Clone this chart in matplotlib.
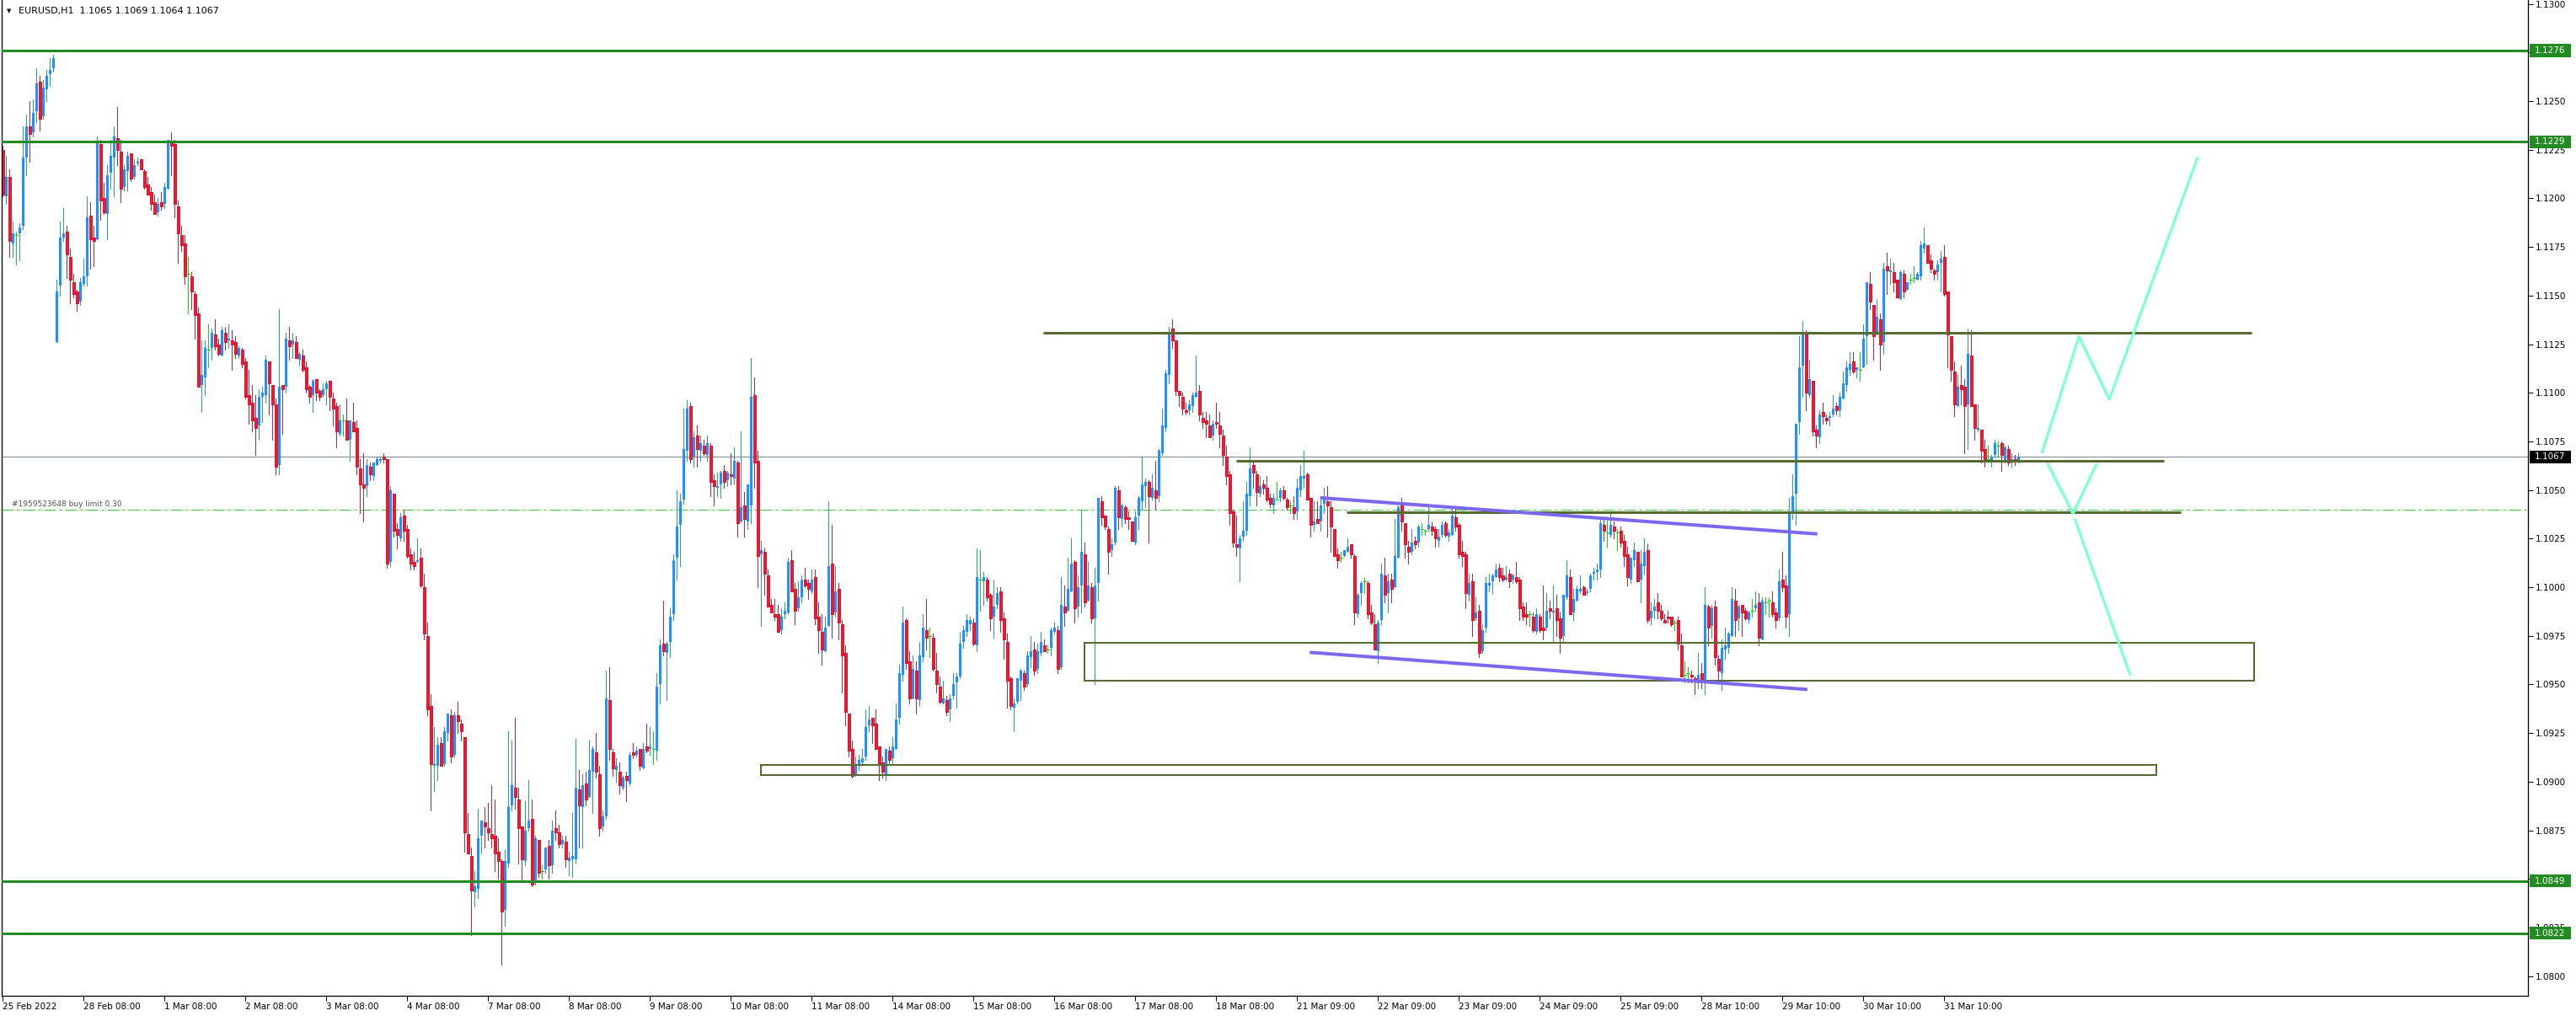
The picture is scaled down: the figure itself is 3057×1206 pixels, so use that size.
import numpy as np
import matplotlib
matplotlib.use("Agg")
import matplotlib.pyplot as plt
from matplotlib.patches import Rectangle
from matplotlib.transforms import blended_transform_factory

plt.rcParams['font.family'] = ['DejaVu Sans']
plt.rcParams['lines.scale_dashes'] = False

# prices are stored in pips above 1.0800
BASE = 1.0800

# EURUSD H1, 25 Feb 2022 08:00 .. 1 Apr 2022, one row per bar: open, high, low, close
OHLC = """
425 427 401 402|401 422 397 411|411 415 370 378|377 388 370 382|381 383 366 381|382 387 368 385|386 437 384 421|421 443 412 437
437 450 419 433|434 451 432 444|445 467 439 459|460 463 435 441|442 461 441 457|456 466 450 463|464 472 458 466|467 474 465 472
326 358 326 352|355 388 350 380|380 395 378 382|383 386 359 371|370 374 346 358|357 361 349 351|352 353 342 346|347 359 345 357
356 369 355 360|360 401 355 390|391 398 364 379|380 386 365 378|379 432 379 429|428 430 389 399|400 408 392 393|392 417 379 412
413 430 405 422|421 437 401 432|431 447 417 425|424 430 398 405|406 417 404 415|414 424 404 422|423 423 409 410|411 420 410 417
418 421 417 419|420 420 415 415|414 415 405 406|407 411 402 402|403 406 394 397|398 402 392 392|393 400 391 397|398 403 394 396
397 408 395 406|405 430 405 430|429 434 412 427|428 430 390 397|396 399 367 382|381 386 373 376|377 381 356 360|361 370 341 361
360 362 343 352|351 352 328 340|341 344 303 303|304 327 290 309|308 327 299 323|322 335 313 322|323 333 317 331|330 338 322 324
325 328 319 320|319 334 319 332|331 334 322 326|327 335 323 328|327 332 312 325|326 329 318 320|319 324 318 323|322 323 313 315
316 318 297 298|299 312 284 294|295 304 280 286|287 299 268 282|283 302 276 298|298 303 285 300|299 319 295 317|316 316 289 305
304 304 276 294|294 297 258 262|263 343 258 303|304 304 279 302|303 331 300 328|327 334 317 324|325 331 318 327|326 329 318 318
317 321 314 320|319 322 311 312|313 316 300 302|303 304 295 298|299 307 290 306|307 307 296 300|301 302 296 298|299 305 298 302
302 306 294 305|306 306 291 298|297 300 283 292|293 295 272 280|279 294 278 286|286 289 278 286|286 297 276 276|276 286 265 286
285 295 280 280|282 286 258 262|261 266 238 253|253 269 234 251|252 266 247 263|262 264 255 258|257 264 255 264|263 267 263 266
265 267 264 266|267 269 264 266|266 266 210 212|213 252 211 250|248 248 226 229|230 233 220 227|225 238 224 236|237 240 224 229
230 232 215 216|217 220 209 212|213 218 209 211|213 225 213 214|215 220 200 201|200 207 173 176|175 182 134 137|139 145 85 109
108 128 95 109|108 123 101 119|120 123 108 108|109 128 108 126|125 135 121 135|134 137 110 113|114 136 113 134|134 141 125 131
130 132 121 126|123 123 64 74|73 84 63 63|62 66 21 44|43 54 36 46|45 86 40 71|72 80 63 80|79 87 66 77
76 89 70 74|73 98 66 71|72 91 54 63|64 71 50 59|59 60 6 33|34 65 26 59|58 126 56 87|88 121 85 98
97 133 86 92|91 97 58 76|77 77 49 60|59 90 57 75|76 101 75 80|81 91 46 47|49 72 47 71|70 70 51 53
54 57 50 54|55 66 53 66|67 70 50 57|57 80 53 75|76 85 70 74|74 78 66 68|68 72 66 70|69 72 56 60
59 64 52 61|60 84 51 62|60 122 58 97|96 106 66 88|87 104 66 98|99 105 88 91|92 121 92 106|105 118 84 117
115 125 102 105|104 108 72 76|77 85 75 82|82 157 81 143|142 159 111 117|115 117 103 107|106 112 100 108|105 110 94 98
97 103 96 102|103 105 90 101|99 115 98 114|115 120 112 114|114 118 113 116|117 117 106 108|107 120 107 117|118 130 115 116
117 128 114 118|117 126 109 117|116 156 111 149|150 173 140 170|171 193 165 167|166 172 142 171|172 189 164 185|186 217 183 214
215 250 204 231|232 248 211 244|245 292 243 271|270 296 265 292|293 295 264 266|267 280 262 277|278 283 262 271|270 278 265 274
273 276 268 269|268 278 265 274|273 274 247 254|255 258 242 252|251 259 247 252|253 260 246 259|260 263 251 254|255 260 252 259
258 269 253 257|256 272 253 265|264 265 226 233|234 280 234 241|242 249 226 235|234 253 230 253|242 318 233 298|299 308 251 264
265 270 200 216|217 224 180 219|218 220 196 207|206 209 190 190|191 194 187 187|186 194 183 185|186 191 177 177|178 189 176 185
186 192 184 188|187 215 186 213|214 219 198 198|199 202 181 188|189 203 188 195|195 206 192 204|204 210 200 201|202 204 194 199
198 209 197 204|205 209 181 184|185 192 166 178|177 186 160 168|167 185 167 179|180 244 180 211|212 232 174 186|187 211 185 198
199 202 173 182|181 183 146 165|166 170 129 136|135 135 113 116|117 121 102 103|104 113 103 109|108 114 106 111|110 117 109 112
113 137 111 128|129 139 126 132|133 133 120 129|130 137 117 117|118 118 101 109|110 113 102 105|104 117 101 117|116 118 109 111
112 123 109 118|117 140 117 132|133 160 130 156|155 190 152 182|183 184 158 161|162 167 140 143|143 165 143 158|157 162 135 143
142 172 139 165|164 186 162 179|178 194 168 174|175 179 164 175|174 176 157 158|157 166 146 150|149 154 140 141|140 152 140 143
142 144 134 136|137 145 131 143|144 156 143 150|151 156 138 154|154 177 153 171|172 180 169 178|177 186 175 183|181 185 178 183
182 184 170 171|170 220 167 205|204 219 188 204|203 208 191 205|204 205 193 195|196 197 178 184|185 204 174 190|191 200 189 197
198 200 177 183|184 187 163 173|172 176 138 152|153 154 137 139|138 143 126 140|141 153 140 153|152 158 142 157|156 157 147 149
150 167 149 165|164 175 159 167|168 172 155 157|158 171 156 167|166 177 165 172|170 173 167 167|168 170 166 168|169 179 165 178
177 182 176 179|178 180 156 158|159 205 158 191|190 201 180 187|188 215 188 199|198 225 198 212|213 214 182 189|190 206 185 200
201 240 187 218|217 223 190 192|193 213 193 201|200 202 182 184|184 210 150 201|202 246 193 246|244 247 232 236|237 237 230 231
230 231 207 218|219 225 216 222|223 252 222 251|250 252 230 236|235 243 231 242|241 242 233 235|236 239 230 235|234 234 224 224
223 239 222 236|237 247 230 246|244 267 240 253|252 256 241 254|254 255 223 247|246 258 245 251|250 265 240 246|247 271 244 270
269 292 268 283|282 312 280 310|309 334 305 331|333 338 323 327|327 327 299 301|301 301 293 299|298 300 289 292|291 295 289 290
291 296 289 294|293 300 290 299|298 319 298 300|301 304 286 289|287 290 282 285|286 290 277 284|283 289 277 277|278 286 276 284
285 295 282 284|283 290 272 279|278 281 263 268|267 273 253 257|258 260 232 238|239 240 221 223|222 237 216 221|220 227 203 225
226 244 224 229|229 254 227 248|247 272 242 261|263 265 251 259|258 260 242 249|248 257 247 252|253 255 248 251|251 257 244 245
246 248 241 243|242 248 238 246|245 254 245 245|246 251 244 250|250 252 245 246|245 246 240 241|242 244 238 242|241 247 235 238
239 256 235 251|250 263 247 257|256 270 251 257|258 259 245 245|246 246 226 232|232 244 229 234|235 244 233 233|234 245 229 242
243 251 238 245|244 252 226 242|241 244 218 231|230 230 216 216|217 220 210 214|215 218 213 215|216 219 216 219|218 225 218 221
222 222 215 217|216 217 181 187|186 197 185 196|197 203 191 202|203 205 197 203|202 203 184 186|187 191 181 182|181 186 168 168
167 183 161 182|183 212 181 207|206 215 192 196|197 207 187 203|204 207 192 199|200 235 200 216|215 242 215 241|242 246 229 234
233 233 215 222|221 224 212 218|218 230 217 223|224 226 220 222|223 232 221 231|230 233 227 230|229 230 227 229|230 242 229 232
231 234 227 229|230 231 221 225|224 230 221 226|227 234 226 232|233 234 226 227|226 230 224 228|227 241 227 237|236 241 229 231
232 233 215 217|218 224 211 216|217 218 189 197|196 207 193 202|203 207 175 183|184 195 183 187|188 191 164 166|167 181 166 178
179 205 177 202|201 207 198 202|203 207 197 206|205 212 205 209|210 212 203 205|206 210 203 204|204 211 204 205|207 209 200 203
204 207 202 206|205 213 202 203|204 205 183 189|190 192 183 185|186 192 181 185|186 188 180 186|185 187 177 178|177 189 176 186
185 186 177 178|179 201 173 178|179 197 178 188|189 193 184 188|187 201 172 188|189 196 175 183|184 187 166 174|175 196 172 196
195 214 194 206|205 209 186 186|187 199 183 194|193 201 193 199|198 206 197 199|200 201 196 196|197 199 196 198|199 207 198 206
207 210 204 208|208 212 204 209|209 236 205 233|232 236 224 229|228 235 221 228|227 238 226 232|231 234 225 229|228 230 219 228
229 231 221 223|224 227 211 216|217 221 201 205|204 215 202 215|214 223 211 219|218 218 203 203|204 219 192 212|211 225 207 218
219 222 182 183|184 192 181 188|188 194 184 190|192 197 184 188|188 191 183 184|183 186 182 182|185 188 182 184|185 185 180 181
182 183 178 182|183 185 168 171|170 176 154 154|155 162 151 155|156 159 151 156|155 157 151 154|153 154 145 152|151 166 148 155
156 161 148 151|151 200 145 191|190 191 170 179|180 191 174 189|190 193 160 164|163 165 151 157|156 173 147 169|168 179 163 170
169 177 166 176|175 200 175 194|193 199 175 183|184 191 178 190|191 191 175 187|188 189 183 184|183 188 182 187|188 194 185 188
189 198 188 191|192 197 170 174|173 195 173 193|192 195 186 192|193 195 185 193|192 198 185 186|187 189 179 183|184 209 183 203
204 218 198 200|201 206 179 185|186 246 175 238|239 258 235 247|248 284 232 284|285 329 279 313|314 337 298 330|331 332 291 300
299 317 298 307|306 306 278 280|281 283 272 278|277 291 274 289|290 295 284 288|287 289 284 286|287 290 283 288|289 299 288 292
293 295 289 291|291 300 288 298|297 311 297 305|304 316 301 313|312 321 309 315|316 321 310 311|312 313 308 313|312 321 306 312
313 335 313 328|329 357 315 357|356 362 343 347|345 345 317 329|330 348 330 339|338 341 312 325|326 367 320 364|365 372 351 363
362 369 356 363|362 367 352 357|358 358 349 349|348 363 348 362|361 363 349 352|353 357 353 357|358 361 356 358|359 365 357 359
358 362 358 361|360 378 358 376|374 385 372 377|376 376 367 367|368 371 362 364|363 364 358 361|362 368 358 366|367 373 352 369
370 376 350 351|352 352 313 330|329 329 306 312|311 316 288 294|293 309 293 303|304 314 294 302|303 307 269 293|294 333 271 320
319 332 293 293|294 294 276 282|281 294 280 282|281 281 264 270|271 276 262 265|266 273 265 266|265 268 262 267|268 276 267 274
273 275 267 273|274 275 260 268|265 273 264 272|271 273 263 264|265 269 262 266|266 268 263 265|265 269 264 267
"""

TIME_LABELS = ["25 Feb 2022", "28 Feb 08:00", "1 Mar 08:00", "2 Mar 08:00", "3 Mar 08:00",
               "4 Mar 08:00", "7 Mar 08:00", "8 Mar 08:00", "9 Mar 08:00", "10 Mar 08:00",
               "11 Mar 08:00", "14 Mar 08:00", "15 Mar 08:00", "16 Mar 08:00", "17 Mar 08:00",
               "18 Mar 08:00", "21 Mar 09:00", "22 Mar 09:00", "23 Mar 09:00", "24 Mar 09:00",
               "25 Mar 09:00", "28 Mar 10:00", "29 Mar 10:00", "30 Mar 10:00", "31 Mar 10:00"]
LABEL_STEP = 24  # bars between date labels

PRICE_TICKS = [1.0800, 1.0825, 1.0850, 1.0875, 1.0900, 1.0925, 1.0950, 1.0975, 1.1000,
               1.1025, 1.1050, 1.1075, 1.1100, 1.1125, 1.1150, 1.1175, 1.1200, 1.1225,
               1.1250, 1.1275, 1.1300]

LEVELS = [1.1276, 1.1229, 1.0849, 1.0822]   # green horizontal levels
BID = 1.1067
ORDER_PRICE = 1.1040
ORDER_TEXT = "#1959523648 buy limit 0.30"

# drawn objects, (bar, pips)
OLIVE_LINES = [((308.75, 331.0), (667.2, 331.0)),
               ((365.85, 265.0), (641.1, 265.0)),
               ((398.8, 238.5), (646.1, 238.5))]
OLIVE_BOXES = [((320.85, 151.7), (667.9, 171.6)),
               ((224.85, 103.5), (638.9, 108.7))]
CHANNEL = [((390.85, 246.0), (538.35, 227.4)),
           ((387.75, 166.5), (535.4, 147.4))]
PATHS = [[(605.1, 269.6), (616.0, 329.0), (625.0, 296.6), (651.1, 420.6)],
         [(606.85, 263.2), (614.2, 237.8), (621.1, 263.0)],
         [(614.85, 234.6), (631.1, 155.2)]]

W, H = 3057, 1206
PX = 0.72  # one pixel in points at dpi 100
BULL = '#1E90FF'
BEAR = '#EE1B2E'
BEAR_WICK = '#D41A35'
DOJI = '#00E000'
GREEN = '#228B22'
OLIVE = '#556B2F'
PURPLE = '#7B68EE'
AQUA = '#7FFFD4'


def px(v):
    return BASE + np.asarray(v, dtype=float) / 10000.0


def price_box(ax, price, text, color):
    tr = blended_transform_factory(ax.transAxes, ax.transData)
    ax.add_patch(Rectangle((1 + 2 / 2998, price - 0.00033), 49 / 2998, 0.00066,
                           transform=tr, facecolor=color, edgecolor='none',
                           clip_on=False, zorder=6))
    ax.text(1 + 8 / 2998, price, text, transform=tr, ha='left', va='center',
            color='white', fontsize=7.5, clip_on=False, zorder=7)


def main():
    rows = [r.split() for r in OHLC.replace("\n", "|").split("|") if r.strip()]
    data = np.array(rows, dtype=float)
    o, h, l, c = (px(data[:, k]) for k in range(4))
    n = len(o)
    x = np.arange(n)

    fig = plt.figure(figsize=(W / 100, H / 100), dpi=100)
    ax = fig.add_axes([2 / W, 24 / H, 2998 / W, 1182 / H])
    ax.set_xlim(-0.325, 749.2)
    ax.set_ylim(1.078987, 1.13020)

    up = c > o
    dn = c < o
    dj = c == o

    wick_col = np.where(up, BULL, np.where(dn, BEAR_WICK, DOJI))
    ax.vlines(x, l, h, colors=list(wick_col), lw=PX, zorder=2,
              antialiased=False)
    ax.bar(x[up], (c - o)[up], bottom=o[up], width=0.75, color=BULL, lw=0,
           zorder=2, antialiased=False)
    ax.bar(x[dn], (o - c)[dn], bottom=c[dn], width=0.75, color=BEAR,
           edgecolor=BEAR_WICK, lw=0.5, zorder=2, antialiased=False)
    ax.hlines(c[dj], x[dj] - 0.4, x[dj] + 0.4, colors=DOJI, lw=PX,
              zorder=2, antialiased=False)

    # bid line and pending order line
    ax.axhline(BID, color='#778899', lw=PX, zorder=1)
    ax.axhline(ORDER_PRICE, color='#32CD32', lw=PX, zorder=1,
               linestyle=(0, (10, 3, 2, 3)))
    ax.text(12 / 2998, ORDER_PRICE + 0.00006, ORDER_TEXT,
            transform=blended_transform_factory(ax.transAxes, ax.transData),
            fontsize=6.5, color='#505050', ha='left', va='bottom', zorder=4)

    for lv in LEVELS:
        ax.axhline(lv, color=GREEN, lw=3 * PX, zorder=3)

    for (x0, y0), (x1, y1) in OLIVE_LINES:
        ax.plot([x0, x1], px([y0, y1]), color=OLIVE, lw=3 * PX,
                solid_capstyle='butt', zorder=3)
    for (x0, y0), (x1, y1) in OLIVE_BOXES:
        ax.add_patch(Rectangle((x0, px(y0)), x1 - x0, px(y1) - px(y0),
                               fill=False, edgecolor=OLIVE, lw=2 * PX, zorder=3))
    for (x0, y0), (x1, y1) in CHANNEL:
        ax.plot([x0, x1], px([y0, y1]), color=PURPLE, lw=4 * PX,
                solid_capstyle='butt', zorder=3)
    for path in PATHS:
        bx, by = zip(*path)
        ax.plot(bx, px(by), color=AQUA, lw=3.3 * PX, zorder=3)

    # axes look
    ax.spines['top'].set_visible(False)
    for side in ['left', 'bottom', 'right']:
        ax.spines[side].set_linewidth(1.3 * PX)
        ax.spines[side].set_color('black')

    ax.yaxis.tick_right()
    ax.set_yticks(PRICE_TICKS)
    ax.set_yticklabels([f'{t:.4f}' for t in PRICE_TICKS])
    ax.tick_params(axis='y', direction='out', length=4, width=PX, pad=2,
                   labelsize=7.5, colors='black')

    ticks = [i * LABEL_STEP for i in range(len(TIME_LABELS))]
    ax.set_xticks(ticks)
    ax.set_xticklabels(TIME_LABELS, ha='left')
    ax.tick_params(axis='x', direction='out', length=4, width=PX, pad=2,
                   labelsize=7.5, colors='black')

    for lv in LEVELS:
        price_box(ax, lv, f'{lv:.4f}', GREEN)
    price_box(ax, BID, f'{BID:.4f}', 'black')

    # chart title, top-left
    last = f'{o[-1]:.4f} {h[-1]:.4f} {l[-1]:.4f} {c[-1]:.4f}'
    fig.text(8 / W, 1 - 13 / H, '\u25bc', fontsize=5, va='center', ha='left')
    fig.text(22 / W, 1 - 13 / H, f'EURUSD,H1  {last}', fontsize=8,
             va='center', ha='left')

    fig.savefig('out.png', dpi=100, facecolor='white')
    plt.close(fig)


if __name__ == '__main__':
    main()
